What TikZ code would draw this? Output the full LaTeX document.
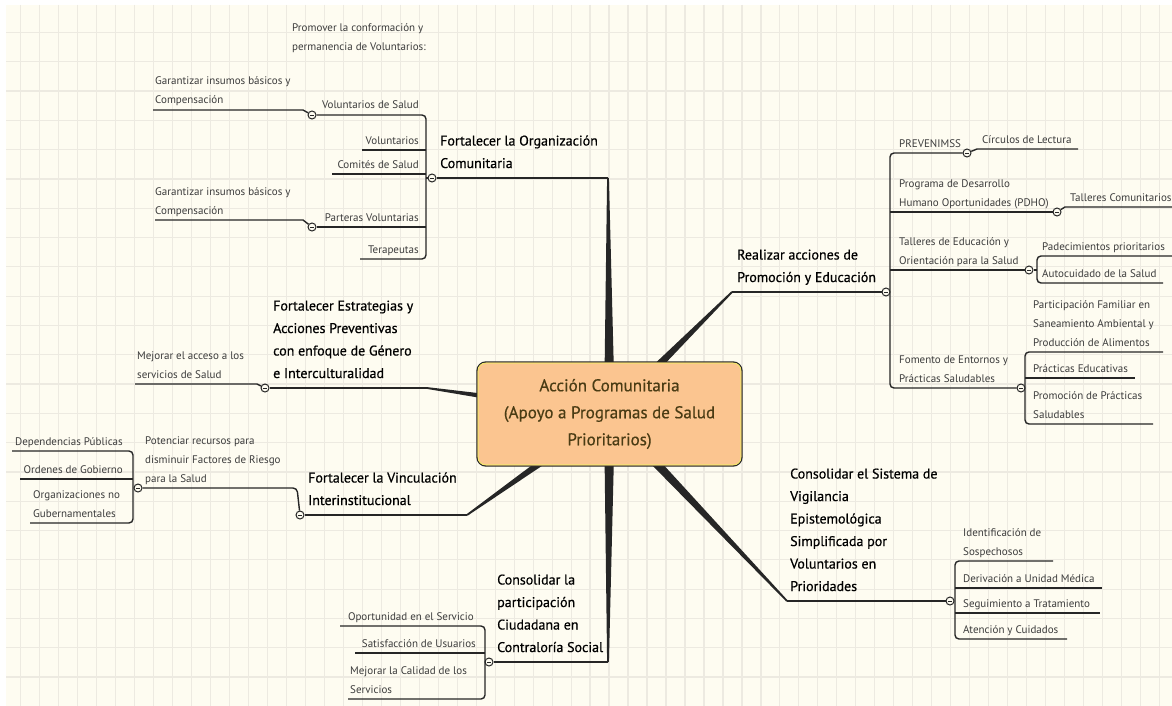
\documentclass[tikz,border=0pt]{standalone}
\usepackage{fontspec}
\setmainfont{PT Sans}
\newfontfamily\topicfont{PT Sans}[FakeBold=0.6]
\newfontfamily\ctrfont{PT Sans}[FakeBold=0.5]
\usetikzlibrary{calc}
\definecolor{bgc}{HTML}{FEFCF1}
\definecolor{gridc}{HTML}{EDEAE1}
\definecolor{linec}{HTML}{262626}
\definecolor{subc}{HTML}{3C3C3C}
\definecolor{boxc}{HTML}{FBC590}
\definecolor{boxy}{HTML}{F2E46A}
\definecolor{ctxt}{HTML}{4A3C14}
\newcommand\mmbranch[2]{\fill[linec] ($(#1)!5.5pt!90:(#2)$) -- ($(#2)!0.9pt!-90:(#1)$) -- ($(#2)!0.9pt!90:(#1)$) -- ($(#1)!5.5pt!-90:(#2)$) -- cycle;}
\begin{document}
\begin{tikzpicture}[x=1pt,y=-1pt,
 sub/.style={font=\fontsize{11}{13}\selectfont,text=subc,inner sep=0pt,anchor=base west},
 subr/.style={sub,anchor=base east},
 topic/.style={font=\topicfont\fontsize{14}{17}\selectfont,text=black,inner sep=0pt,anchor=base west},
 ul/.style={draw=linec,line width=1.4pt},
 tul/.style={draw=linec,line width=2pt},
 brk/.style={draw=linec,line width=1.4pt,rounded corners=4pt},
 mmc/.style={circle,draw=linec,fill=bgc,line width=1pt,minimum size=8pt,inner sep=0pt,
   path picture={\draw[linec,line width=0.8pt] ([xshift=-2.2pt]path picture bounding box.center) -- ([xshift=2.2pt]path picture bounding box.center);}},
 centerbox/.style={draw=linec,line width=1.4pt,fill=boxc,rounded corners=9pt,minimum width=265pt,minimum height=104pt,align=center,text=ctxt,font=\ctrfont\fontsize{17}{27}\selectfont}
 ]
\useasboundingbox (0,0) rectangle (1172,706);
% background and grid
\fill[white] (0,0) rectangle (1172,706);
\fill[bgc] (6,5) rectangle (1172,706);
\foreach \i in {1,...,61} {\draw[gridc,line width=1.2pt] ({1.7+18.98*\i},5) -- ({1.7+18.98*\i},706);}
\foreach \j in {0,...,22} {\draw[gridc,line width=1.2pt] (6,{32.4+29.3*\j}) -- (1172,{32.4+29.3*\j});}

% ---------- coordinates ----------
\coordinate (cc) at (609.5,414);
\coordinate (t1-r) at (608,178);
\coordinate (t2-l) at (732,292);
\coordinate (t3-r) at (427,388);
\coordinate (t4-r) at (467,515);
\coordinate (t5-r) at (608,662);
\coordinate (t6-l) at (787,601);

% ---------- main branches ----------
\mmbranch{cc}{t1-r}
\mmbranch{cc}{t2-l}
\mmbranch{cc}{t3-r}
\mmbranch{cc}{t4-r}
\mmbranch{cc}{t5-r}
\mmbranch{cc}{t6-l}

% ---------- central topic ----------
\node[centerbox] (ctr) at (cc) {Acción Comunitaria\\(Apoyo a Programas de Salud\\Prioritarios)};
\draw[boxy,line width=1pt,rounded corners=7.5pt] ([shift={(1.8,1.8)}]ctr.north west) rectangle ([shift={(-1.8,-1.8)}]ctr.south east);

% ---------- floating text ----------
\node[sub] (fl1) at (292,32) {Promover la conformación y};
\node[sub] (fl2) at (292,51) {permanencia de Voluntarios:};

% ---------- T1 Fortalecer la Organización Comunitaria ----------
\node[mmc] (c1) at (432,178) {};
\draw[tul] (c1) -- (t1-r);
\node[topic] (t1a) at (440,145.5) {Fortalecer la Organización};
\node[topic] (t1b) at (440,168) {Comunitaria};
\node[mmc] (c11) at (312,115) {};
\node[mmc] (c12) at (312,227) {};
\coordinate (b1t) at (426,115);
\coordinate (b1b) at (426,259);
\coordinate (te-l) at (360,259);
\coordinate (vo-l) at (362,150);
\coordinate (b1m1) at (426,150);
\coordinate (cs-l) at (332,174);
\coordinate (b1m2) at (426,174);
\coordinate (b1m3) at (426,227);
\coordinate (b1m4) at (426,178);
\draw[brk] (c11) -- (b1t) -- (b1b) -- (te-l);
\draw[ul] (vo-l) -- (b1m1);
\draw[ul] (cs-l) -- (b1m2);
\draw[ul] (c12) -- (b1m3);
\draw[ul] (b1m4) -- (c1);
\node[subr] (vs) at (419,109) {Voluntarios de Salud};
\node[subr] (vo) at (419,144) {Voluntarios};
\node[subr] (cs) at (419,168) {Comités de Salud};
\node[subr] (pv) at (419,221) {Parteras Voluntarias};
\node[subr] (te) at (419,253) {Terapeutas};
\coordinate (g1-l) at (153,110);
\coordinate (g1-r) at (303,110);
\coordinate (g2-l) at (155,220);
\coordinate (g2-r) at (303,220);
\draw[ul] (g1-l) -- (g1-r) -- (c11);
\draw[ul] (g2-l) -- (g2-r) -- (c12);
\node[sub] (g1a) at (155,85) {Garantizar insumos básicos y};
\node[sub] (g1b) at (155,104) {Compensación};
\node[sub] (g2a) at (155,195) {Garantizar insumos básicos y};
\node[sub] (g2b) at (155,214) {Compensación};

% ---------- T2 Realizar acciones ----------
\node[mmc] (c2) at (886,292) {};
\draw[tul] (t2-l) -- (c2);
\node[topic] (t2a) at (737,259.5) {Realizar acciones de};
\node[topic] (t2b) at (737,282) {Promoción y Educación};
\node[mmc] (c21) at (967,153) {};
\node[mmc] (c22) at (1057,212) {};
\node[mmc] (c23) at (1029,270) {};
\node[mmc] (c24) at (1021,388) {};
\coordinate (b2t) at (890,153);
\coordinate (b2b) at (890,388);
\coordinate (b2m1) at (890,212);
\coordinate (b2m2) at (890,270);
\draw[brk] (c21) -- (b2t) -- (b2b) -- (c24);
\draw[ul] (b2m1) -- (c22);
\draw[ul] (b2m2) -- (c23);
\node[sub] (pr) at (899,147) {PREVENIMSS};
\node[sub] (pd1) at (899,187) {Programa de Desarrollo};
\node[sub] (pd2) at (899,206) {Humano Oportunidades (PDHO)};
\node[sub] (ted1) at (899,245) {Talleres de Educación y};
\node[sub] (ted2) at (899,264) {Orientación para la Salud};
\node[sub] (fe1) at (899,363) {Fomento de Entornos y};
\node[sub] (fe2) at (899,382) {Prácticas Saludables};
\coordinate (cl-l) at (977,149);
\coordinate (cl-r) at (1078,149);
\draw[ul] (c21) -- (cl-l) -- (cl-r);
\node[sub] (cl) at (982,143) {Círculos de Lectura};
\coordinate (tc-l) at (1065,207);
\coordinate (tc-r) at (1180,207);
\draw[ul] (c22) -- (tc-l) -- (tc-r);
\node[sub] (tc) at (1070,201) {Talleres Comunitarios};
\coordinate (b23t) at (1037,256);
\coordinate (b23b) at (1037,283);
\coordinate (b23m) at (1037,270);
\coordinate (pp-r) at (1180,256);
\coordinate (au-r) at (1163,283);
\draw[brk] (pp-r) -- (b23t) -- (b23b) -- (au-r);
\draw[ul] (c23) -- (b23m);
\node[sub] (pp) at (1042,250) {Padecimientos prioritarios};
\node[sub] (au) at (1042,277) {Autocuidado de la Salud};
\coordinate (b24t) at (1025,352);
\coordinate (b24b) at (1025,424);
\coordinate (b24m) at (1025,378);
\coordinate (pf-r) at (1163,352);
\coordinate (pe-r) at (1135,378);
\coordinate (ps-r) at (1153,424);
\draw[brk] (pf-r) -- (b24t) -- (b24b) -- (ps-r);
\draw[ul] (b24m) -- (pe-r);
\node[sub] (pf1) at (1033,308) {Participación Familiar en};
\node[sub] (pf2) at (1033,327) {Saneamiento Ambiental y};
\node[sub] (pf3) at (1033,346) {Producción de Alimentos};
\node[sub] (pe) at (1033,372) {Prácticas Educativas};
\node[sub] (ps1) at (1033,399) {Promoción de Prácticas};
\node[sub] (ps2) at (1033,418) {Saludables};

% ---------- T3 Estrategias ----------
\node[mmc] (c3) at (265,388) {};
\draw[tul] (c3) -- (t3-r);
\node[topic] (t3a) at (273,310.5) {Fortalecer Estrategias y};
\node[topic] (t3b) at (273,333) {Acciones Preventivas};
\node[topic] (t3c) at (273,355.5) {con enfoque de Género};
\node[topic] (t3d) at (273,378) {e Interculturalidad};
\coordinate (ma-l) at (135,384);
\coordinate (ma-r) at (257,384);
\draw[ul] (ma-l) -- (ma-r) -- (c3);
\node[sub] (ma1) at (137,359) {Mejorar el acceso a los};
\node[sub] (ma2) at (137,378) {servicios de Salud};

% ---------- T4 Vinculación ----------
\node[mmc] (c4) at (300,515) {};
\draw[tul] (c4) -- (t4-r);
\node[topic] (t4a) at (308,482.5) {Fortalecer la Vinculación};
\node[topic] (t4b) at (308,505) {Interinstitucional};
\node[mmc] (c41) at (138,488) {};
\coordinate (po-r) at (297,488);
\draw[ul,rounded corners=4pt] (c41) -- (po-r) -- (c4);
\node[sub] (po1) at (145,444) {Potenciar recursos para};
\node[sub] (po2) at (145,463) {disminuir Factores de Riesgo};
\node[sub] (po3) at (145,482) {para la Salud};
\coordinate (dp-l) at (12,451);
\coordinate (b4t) at (133,451);
\coordinate (b4b) at (133,523);
\coordinate (on-l) at (30,523);
\coordinate (og-l) at (20,479);
\coordinate (b4m) at (133,479);
\draw[brk] (dp-l) -- (b4t) -- (b4b) -- (on-l);
\draw[ul] (og-l) -- (b4m);
\node[subr] (dp) at (123,445) {Dependencias Públicas};
\node[subr] (og) at (123,473) {Ordenes de Gobierno};
\node[sub] (on1) at (33,498) {Organizaciones no};
\node[sub] (on2) at (33,517) {Gubernamentales};

% ---------- T5 Contraloría ----------
\node[mmc] (c5) at (489,662) {};
\draw[tul] (c5) -- (t5-r);
\node[topic] (t5a) at (497,584.5) {Consolidar la};
\node[topic] (t5b) at (497,607) {participación};
\node[topic] (t5c) at (497,629.5) {Ciudadana en};
\node[topic] (t5d) at (497,652) {Contraloría Social};
\coordinate (os-l) at (340,626);
\coordinate (b5t) at (485,626);
\coordinate (b5b) at (485,699);
\coordinate (mc-l) at (348,699);
\coordinate (su-l) at (355,653);
\coordinate (b5m) at (485,653);
\draw[brk] (os-l) -- (b5t) -- (b5b) -- (mc-l);
\draw[ul] (su-l) -- (b5m);
\node[subr] (os) at (474,620) {Oportunidad en el Servicio};
\node[subr] (su) at (476,647) {Satisfacción de Usuarios};
\node[sub] (mc1) at (350,674) {Mejorar la Calidad de los};
\node[sub] (mc2) at (350,693) {Servicios};

% ---------- T6 Vigilancia ----------
\node[mmc] (c6) at (950,601) {};
\draw[tul] (t6-l) -- (c6);
\node[topic] (t6a) at (790,478.5) {Consolidar el Sistema de};
\node[topic] (t6b) at (790,501) {Vigilancia};
\node[topic] (t6c) at (790,523.5) {Epistemológica};
\node[topic] (t6d) at (790,546) {Simplificada por};
\node[topic] (t6e) at (790,568.5) {Voluntarios en};
\node[topic] (t6f) at (790,591) {Prioridades};
\coordinate (b6t) at (955,561);
\coordinate (b6b) at (955,639);
\coordinate (is-r) at (1053,561);
\coordinate (ac-r) at (1067,639);
\coordinate (b6m1) at (955,588);
\coordinate (du-r) at (1102,588);
\coordinate (b6m2) at (955,613);
\coordinate (st-r) at (1100,613);
\draw[brk] (is-r) -- (b6t) -- (b6b) -- (ac-r);
\draw[ul] (b6m1) -- (du-r);
\draw[ul] (b6m2) -- (st-r);
\node[sub] (is1) at (963,536) {Identificación de};
\node[sub] (is2) at (963,555) {Sospechosos};
\node[sub] (du) at (963,582) {Derivación a Unidad Médica};
\node[sub] (st) at (963,607) {Seguimiento a Tratamiento};
\node[sub] (ac) at (963,633) {Atención y Cuidados};
\end{tikzpicture}
\end{document}
